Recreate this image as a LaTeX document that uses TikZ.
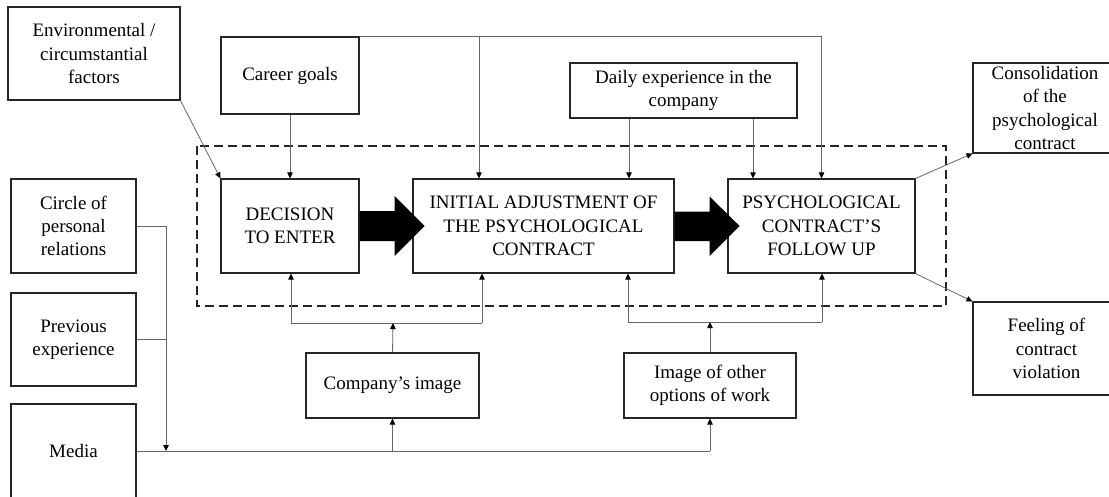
\documentclass[tikz,border=0pt]{standalone}
\usepackage{fontspec}
\setmainfont{Liberation Serif}
\usetikzlibrary{arrows.meta,calc}
\begin{document}
\begin{tikzpicture}[x=1pt,y=-1pt,
  box/.style={draw=black!85,line width=1.1pt,fill=white,align=center,inner sep=0pt,
    font={\fontsize{19}{23.3}\selectfont}},
  conn/.style={draw=black!60,line width=0.8pt},
  arr/.style={conn,-{Triangle[length=6pt,width=5.5pt,fill=black,color=black]}},
  bigarrow/.style={fill=black},
  frame/.style={draw=black!85,line width=1.1pt,dash pattern=on 9pt off 5pt}]
\clip (0,0) rectangle (1109,496);
\fill[white] (0,0) rectangle (1109,496);
% dashed frame
\draw[frame] (197,146) rectangle (946,306);
% boxes
\node[box,minimum width=172,minimum height=93] (env) at (94,53.5) {Environmental /\\circumstantial\\factors};
\node[box,minimum width=138,minimum height=77] (career) at (290,75.5) {Career goals};
\node[box,minimum width=227,minimum height=55] (daily) at (683.5,90.5) {Daily experience in the\\company};
\node[box,minimum width=144,minimum height=90] (consol) at (1045,108) {Consolidation\\of the\\psychological\\contract};
\node[box,minimum width=147,minimum height=93] (feel) at (1046.5,348.5) {Feeling of\\contract\\violation};
\node[box,minimum width=125,minimum height=94] (circle) at (73.5,226) {Circle of\\personal\\relations};
\node[box,minimum width=125,minimum height=93] (prev) at (73.5,339.5) {Previous\\experience};
\node[box,minimum width=125,minimum height=94] (media) at (73.5,451) {Media};
\node[box,minimum width=138,minimum height=94] (dec) at (290,226) {DECISION\\TO ENTER};
\node[box,minimum width=261,minimum height=94] (init) at (543.5,226) {INITIAL ADJUSTMENT OF\\THE PSYCHOLOGICAL\\CONTRACT};
\node[box,minimum width=187,minimum height=94] (follow) at (821.5,226) {PSYCHOLOGICAL\\CONTRACT’S\\FOLLOW UP};
\node[box,minimum width=173,minimum height=65] (company) at (392.5,385.5) {Company’s image};
\node[box,minimum width=172,minimum height=65] (other) at (710,385.5) {Image of other\\options of work};
% big arrows
\fill[bigarrow] (dec.east) ++(0,-15) -- ++(35,0) -- ++(0,-15) -- ++(30,30) -- ++(-30,30) -- ++(0,-15) -- ++(-35,0) -- cycle;
\fill[bigarrow] (init.east) ++(0,-14.5) -- ++(35,0) -- ++(0,-15) -- ++(30,29.5) -- ++(-30,30) -- ++(0,-15) -- ++(-35,0) -- cycle;
% coordinates
\coordinate (topR) at (follow.north |- career.north east);
\coordinate (topM) at (479,37);
\coordinate (jL) at (166,0);
\coordinate (mediaM) at (166,451);
\coordinate (cbar) at (393,323);
\coordinate (obar) at (710,322);
% connectors from the top
\draw[arr] (env.south east) -- (dec.north west);
\draw[arr] (career.south) -- (dec.north);
\draw[conn] (career.north east) -- (topR);
\draw[arr] (topR) -- (follow.north);
\draw[arr] (topM) -- (topM |- init.north);
\draw[arr] (daily.south -| 629,0) -- (init.north -| 629,0);
\draw[arr] (daily.south -| 753,0) -- (follow.north -| 753,0);
% outcomes
\draw[arr] (follow.north east) -- (consol.south west);
\draw[arr] (follow.south east) -- (feel.north west);
% left side inputs
\draw[conn] (circle.east) -- (circle.east -| jL);
\draw[conn] (prev.east) -- (prev.east -| jL);
\draw[arr] (circle.east -| jL) -- (mediaM);
\draw[conn] (media.east) -- (media.east -| other.south);
\draw[arr] (media.east -| company.south) -- (company.south);
\draw[arr] (media.east -| other.south) -- (other.south);
% company's image
\draw[arr] (company.north) -- (cbar);
\draw[conn] (cbar -| 291,0) -- (cbar -| 482,0);
\draw[arr] (cbar -| 291,0) -- (dec.south -| 291,0);
\draw[arr] (cbar -| 482,0) -- (init.south -| 482,0);
% image of other options
\draw[arr] (other.north) -- (obar);
\draw[conn] (obar -| 628,0) -- (obar -| 822,0);
\draw[arr] (obar -| 628,0) -- (init.south -| 628,0);
\draw[arr] (obar -| 822,0) -- (follow.south -| 822,0);
\end{tikzpicture}
\end{document}
